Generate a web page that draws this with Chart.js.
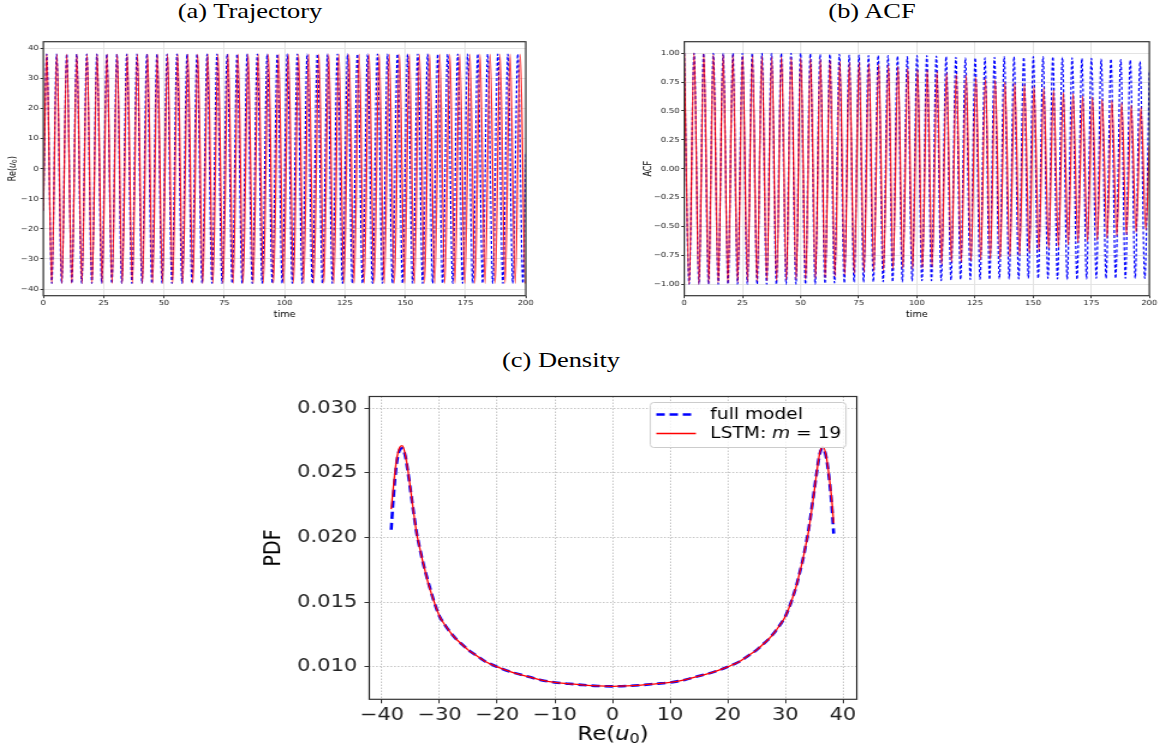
<!DOCTYPE html>
<html lang="en">
<head>
    <meta charset="UTF-8">
    <title>Trajectory, ACF and Density: full model vs LSTM</title>
    <script src="https://cdn.jsdelivr.net/npm/chart.js"></script>
    <style>
        body {
            margin: 0;
            background: #fff;
            width: 1167px;
            height: 750px;
            position: relative;
            overflow: hidden;
        }
        /* the original figure is a bit wider than tall, so every panel is stretched sideways */
        .panel {
            position: absolute;
            transform: scaleX(1.2);
            transform-origin: 0 0;
        }
        .panel canvas { display: block; }
        .caption {
            position: absolute;
            font-family: 'Liberation Serif', 'Times New Roman', serif;
            font-size: 22px;
            line-height: 22px;
            color: #000;
            white-space: nowrap;
            transform: translateX(-50%) scaleX(1.2);
        }
    </style>
</head>
<body>
    <div class="caption" style="left:250px; top:0px;">(a) Trajectory</div>
    <div class="caption" style="left:872px; top:0px;">(b) ACF</div>
    <div class="caption" style="left:561px; top:349px;">(c) Density</div>

    <div class="panel" style="left:0px; top:30px;">
        <canvas id="trajChart" width="450" height="300"></canvas>
    </div>
    <div class="panel" style="left:620px; top:30px;">
        <canvas id="acfChart" width="456" height="300"></canvas>
    </div>
    <div class="panel" style="left:250px; top:380px;">
        <canvas id="densChart" width="534" height="370"></canvas>
    </div>

    <script>
        // ---- (a) trajectory: times of the maxima / minima ----
        const trajXTicks = [0, 25, 50, 75, 100, 125, 150, 175, 200];
        const trajYTicks = [-40, -30, -20, -10, 0, 10, 20, 30, 40];
        const trajPeak = 38.1;
        const trajTrough = -38.1;
        const trajFullPeakT = [1.4, 5.5, 9.7, 13.8, 18.0, 22.2, 26.3, 30.5, 34.6, 38.8, 42.9, 47.1, 51.3, 55.4, 59.6, 63.7,
            67.9, 72.0, 76.2, 80.3, 84.5, 88.7, 92.8, 97.0, 101.1, 105.3, 109.4, 113.6, 117.8, 121.9, 126.1, 130.2,
            134.4, 138.5, 142.7, 146.8, 151.0, 155.2, 159.3, 163.5, 167.6, 171.8, 175.9, 180.1, 184.2, 188.4, 192.6, 196.7];
        const trajFullTroughT = [3.5, 7.6, 11.8, 15.9, 20.1, 24.2, 28.4, 32.5, 36.7, 40.9, 45.0, 49.2, 53.3, 57.5, 61.6, 65.8,
            69.9, 74.1, 78.3, 82.4, 86.6, 90.7, 94.9, 99.0, 103.2, 107.3, 111.5, 115.7, 119.8, 124.0, 128.1, 132.3,
            136.4, 140.6, 144.7, 148.9, 153.1, 157.2, 161.4, 165.5, 169.7, 173.8, 178.0, 182.1, 186.3, 190.5, 194.6, 198.8];
        const trajLstmPeakT = [1.4, 5.6, 9.7, 13.9, 18.1, 22.3, 26.4, 30.6, 34.8, 39.0, 43.2, 47.3, 51.5, 55.7, 59.9, 64.0,
            68.2, 72.4, 76.6, 80.7, 84.9, 89.1, 93.3, 97.5, 101.6, 105.8, 110.0, 114.2, 118.3, 122.5, 126.7, 130.9,
            135.0, 139.2, 143.4, 147.6, 151.7, 155.9, 160.1, 164.3, 168.5, 172.6, 176.8, 181.0, 185.2, 189.3, 193.5, 197.7];
        const trajLstmTroughT = [3.5, 7.7, 11.8, 16.0, 20.2, 24.4, 28.5, 32.7, 36.9, 41.1, 45.3, 49.4, 53.6, 57.8, 62.0, 66.1,
            70.3, 74.5, 78.7, 82.8, 87.0, 91.2, 95.4, 99.6, 103.7, 107.9, 112.1, 116.3, 120.4, 124.6, 128.8, 133.0,
            137.1, 141.3, 145.5, 149.7, 153.8, 158.0, 162.2, 166.4, 170.6, 174.7, 178.9, 183.1, 187.3, 191.4, 195.6, 199.8];
        const trajFullEnds = [[0, -14], [200, 5]];
        const trajLstmEnds = [[0, -14], [200, -37]];

        // ---- (b) ACF ----
        const acfXTicks = [0, 25, 50, 75, 100, 125, 150, 175, 200];
        const acfYTicks = [-1.0, -0.75, -0.5, -0.25, 0, 0.25, 0.5, 0.75, 1.0];
        const acfFullPeakT = [0, 4.2, 8.3, 12.5, 16.7, 20.9, 25.0, 29.2, 33.4, 37.5, 41.7, 45.9, 50.0, 54.2, 58.4, 62.6,
            66.7, 70.9, 75.1, 79.2, 83.4, 87.6, 91.7, 95.9, 100.1, 104.3, 108.4, 112.6, 116.8, 120.9, 125.1, 129.3,
            133.4, 137.6, 141.8, 146.0, 150.1, 154.3, 158.5, 162.6, 166.8, 171.0, 175.1, 179.3, 183.5, 187.7, 191.8, 196.0];
        const acfFullPeakV = [1.0, 1.0, 1.0, 1.0, 1.0, 1.0, 1.0, 1.0, 1.0, 1.0,
            1.0, 1.0, 1.0, 0.995, 0.99, 0.99, 0.99, 0.985, 0.985, 0.98,
            0.98, 0.98, 0.975, 0.97, 0.98, 0.98, 0.975, 0.97, 0.965, 0.96,
            0.96, 0.96, 0.965, 0.97, 0.97, 0.965, 0.97, 0.97, 0.97, 0.965,
            0.96, 0.955, 0.955, 0.95, 0.95, 0.945, 0.94, 0.93];
        const acfFullTroughT = [2.1, 6.3, 10.4, 14.6, 18.8, 22.9, 27.1, 31.3, 35.4, 39.6, 43.8, 48.0, 52.1, 56.3, 60.5, 64.6,
            68.8, 73.0, 77.1, 81.3, 85.5, 89.6, 93.8, 98.0, 102.2, 106.3, 110.5, 114.7, 118.8, 123.0, 127.2, 131.3,
            135.5, 139.7, 143.8, 148.0, 152.2, 156.4, 160.5, 164.7, 168.9, 173.0, 177.2, 181.4, 185.5, 189.7, 193.9, 198.0];
        const acfFullTroughV = [-1.0, -1.0, -1.0, -1.0, -1.0, -1.0, -1.0, -1.0, -1.0, -1.0,
            -1.0, -1.0, -1.0, -1.0, -0.995, -0.99, -0.99, -0.985, -0.985, -0.98,
            -0.98, -0.98, -0.98, -0.975, -0.97, -0.97, -0.97, -0.965, -0.96, -0.96,
            -0.96, -0.96, -0.955, -0.955, -0.955, -0.95, -0.95, -0.95, -0.955, -0.96,
            -0.96, -0.955, -0.95, -0.95, -0.95, -0.95, -0.95, -0.95];
        const acfLstmPeakT = [0, 4.2, 8.4, 12.5, 16.7, 20.9, 25.1, 29.3, 33.4, 37.6, 41.8, 46.0, 50.1, 54.3, 58.5, 62.7,
            66.9, 71.0, 75.2, 79.4, 83.6, 87.8, 91.9, 96.1, 100.3, 104.5, 108.7, 112.8, 117.0, 121.2, 125.4, 129.5,
            133.7, 137.9, 142.1, 146.3, 150.4, 154.6, 158.8, 163.0, 167.2, 171.3, 175.5, 179.7, 183.9, 188.1, 192.2, 196.4];
        const acfLstmPeakV = [1.0, 1.0, 0.995, 0.99, 0.99, 0.985, 0.98, 0.98, 0.975, 0.97,
            0.97, 0.965, 0.96, 0.955, 0.95, 0.94, 0.93, 0.92, 0.92, 0.91,
            0.905, 0.90, 0.885, 0.87, 0.86, 0.855, 0.84, 0.83, 0.82, 0.81,
            0.79, 0.78, 0.77, 0.75, 0.74, 0.73, 0.71, 0.70, 0.68, 0.66,
            0.65, 0.63, 0.62, 0.60, 0.59, 0.57, 0.55, 0.53];
        const acfLstmTroughT = [2.1, 6.3, 10.5, 14.6, 18.8, 23.0, 27.2, 31.3, 35.5, 39.7, 43.9, 48.1, 52.2, 56.4, 60.6, 64.8,
            69.0, 73.1, 77.3, 81.5, 85.7, 89.8, 94.0, 98.2, 102.4, 106.6, 110.7, 114.9, 119.1, 123.3, 127.5, 131.6,
            135.8, 140.0, 144.2, 148.4, 152.5, 156.7, 160.9, 165.1, 169.3, 173.4, 177.6, 181.8, 186.0, 190.2, 194.3, 198.5];
        const acfLstmTroughV = [-1.0, -1.0, -0.995, -0.99, -0.99, -0.985, -0.98, -0.975, -0.97, -0.97,
            -0.965, -0.96, -0.96, -0.95, -0.945, -0.935, -0.92, -0.91, -0.895, -0.89,
            -0.88, -0.87, -0.865, -0.87, -0.86, -0.85, -0.83, -0.81, -0.81, -0.80,
            -0.79, -0.785, -0.78, -0.76, -0.75, -0.73, -0.71, -0.69, -0.68, -0.66,
            -0.64, -0.63, -0.62, -0.60, -0.58, -0.57, -0.55, -0.53];
        const acfFullEnd = [200, 0.85];
        const acfLstmEnd = [200, 0.2];

        // ---- (c) density ----
        const densXTicks = [-40, -30, -20, -10, 0, 10, 20, 30, 40];
        const densYTicks = [0.010, 0.015, 0.020, 0.025, 0.030];
        const densX = [-38.4, -38, -37.5, -37, -36.5, -36, -35.5, -35, -34.5, -34,
            -33.5, -33, -32.5, -32, -31, -30, -29, -28, -27, -26,
            -25, -24, -23, -22, -21, -20, -17.5, -15, -12.5, -10,
            -7.5, -5, -2.5, 0, 2.5, 5, 7.5, 10, 12.5, 15,
            17.5, 20, 21, 22, 23, 24, 25, 26, 27, 28,
            29, 30, 31, 32, 32.5, 33, 33.5, 34, 34.5, 35,
            35.5, 36, 36.5, 37, 37.5, 38, 38.4];
        const densFull = [0.0206, 0.0232, 0.0256, 0.0267, 0.0269, 0.0264, 0.0251, 0.0235, 0.0219, 0.0204,
            0.0193, 0.0183, 0.0174, 0.0166, 0.0151, 0.0139, 0.0132, 0.0126, 0.0121, 0.0117,
            0.0113, 0.0110, 0.0107, 0.0104, 0.0102, 0.0100, 0.0096, 0.0093, 0.0090, 0.0088,
            0.0087, 0.0086, 0.00853, 0.0085, 0.00853, 0.0086, 0.0087, 0.0088, 0.0090, 0.0093,
            0.0096, 0.0100, 0.0102, 0.0104, 0.0107, 0.0110, 0.0113, 0.0117, 0.0121, 0.0126,
            0.0132, 0.0139, 0.0150, 0.0164, 0.0173, 0.0182, 0.0193, 0.0205, 0.0220, 0.0236,
            0.0252, 0.0265, 0.0269, 0.0264, 0.0250, 0.0228, 0.0203];
        const densLstm = [0.0222, 0.0240, 0.0259, 0.0269, 0.0271, 0.0265, 0.0252, 0.0236, 0.0219, 0.0204,
            0.0193, 0.0183, 0.0174, 0.0165, 0.0151, 0.0139, 0.0132, 0.0126, 0.0121, 0.0117,
            0.0113, 0.0110, 0.0107, 0.0104, 0.0102, 0.0100, 0.0096, 0.0093, 0.0090, 0.0088,
            0.0087, 0.0086, 0.00853, 0.0085, 0.00853, 0.0086, 0.0087, 0.0088, 0.0090, 0.0093,
            0.0096, 0.0100, 0.0102, 0.0104, 0.0107, 0.0110, 0.0113, 0.0117, 0.0121, 0.0126,
            0.0132, 0.0139, 0.0150, 0.0164, 0.0173, 0.0182, 0.0193, 0.0204, 0.0219, 0.0235,
            0.0252, 0.0266, 0.0270, 0.0265, 0.0251, 0.0232, 0.0211];

        const BLUE = '#0000ff';
        const RED = '#ff0000';
        const MINUS = '\u2212';

        // join maxima and minima into one time-ordered list of points
        function extrema(peakT, peakV, troughT, troughV, start, end) {
            const pts = [];
            if (start) pts.push({x: start[0], y: start[1]});
            peakT.forEach((t, i) => pts.push({x: t, y: Array.isArray(peakV) ? peakV[i] : peakV}));
            troughT.forEach((t, i) => pts.push({x: t, y: Array.isArray(troughV) ? troughV[i] : troughV}));
            pts.sort((a, b) => a.x - b.x);
            if (end) pts.push({x: end[0], y: end[1]});
            return pts;
        }

        function fmt(v, digits) {
            const s = Math.abs(v).toFixed(digits);
            return v < -1e-9 ? MINUS + s : s;
        }

        // draws text made of pieces: normal, italic, subscript
        function drawRich(ctx, parts, x, y, angle, size) {
            const fontOf = p => {
                if (p.f === 'i') return 'italic ' + size + 'px "DejaVu Sans"';
                if (p.f === 'sub') return (size * 0.7) + 'px "DejaVu Sans"';
                return size + 'px "DejaVu Sans"';
            };
            let w = 0;
            parts.forEach(p => { ctx.font = fontOf(p); p.w = ctx.measureText(p.t).width; w += p.w; });
            ctx.save();
            ctx.translate(x, y);
            ctx.rotate(angle);
            ctx.fillStyle = '#000';
            ctx.textBaseline = 'middle';
            ctx.textAlign = 'left';
            let cx = -w / 2;
            parts.forEach(p => {
                ctx.font = fontOf(p);
                ctx.fillText(p.t, cx, p.f === 'sub' ? size * 0.22 : 0);
                cx += p.w;
            });
            ctx.restore();
        }

        const decor = {
            id: 'decor',
            afterDatasetsDraw(chart, args, opts) {
                const {ctx, chartArea: a} = chart;
                ctx.save();
                ctx.strokeStyle = '#333';
                ctx.lineWidth = opts.frameWidth;
                ctx.strokeRect(a.left, a.top, a.right - a.left, a.bottom - a.top);
                ctx.restore();
            },
            afterDraw(chart, args, opts) {
                const {ctx, chartArea: a} = chart;
                drawRich(ctx, opts.xTitle, (a.left + a.right) / 2, opts.xTitleY, 0, opts.titleSize);
                drawRich(ctx, opts.yTitle, opts.yTitleX, (a.top + a.bottom) / 2, -Math.PI / 2, opts.titleSize);
                if (!opts.legend) return;
                // legend box in the upper right corner
                const L = opts.legend;
                const bx = a.right - L.right - L.w, by = a.top + L.top;
                ctx.save();
                ctx.beginPath();
                ctx.roundRect(bx, by, L.w, L.h, 3);
                ctx.fillStyle = 'rgba(255,255,255,0.8)';
                ctx.fill();
                ctx.strokeStyle = '#cccccc';
                ctx.lineWidth = 1;
                ctx.stroke();
                L.items.forEach((it, i) => {
                    const ry = by + L.rowY[i];
                    ctx.beginPath();
                    ctx.setLineDash(it.dash);
                    ctx.strokeStyle = it.color;
                    ctx.lineWidth = it.width;
                    ctx.moveTo(bx + 5, ry);
                    ctx.lineTo(bx + 38, ry);
                    ctx.stroke();
                    ctx.setLineDash([]);
                    let tx = bx + 50;
                    it.parts.forEach(p => {
                        ctx.font = (p.f === 'i' ? 'italic ' : '') + L.size + 'px "DejaVu Sans"';
                        ctx.fillStyle = '#000';
                        ctx.textBaseline = 'middle';
                        ctx.fillText(p.t, tx, ry);
                        tx += ctx.measureText(p.t).width;
                    });
                });
                ctx.restore();
            }
        };

        function axis(c) {
            return {
                type: 'linear',
                min: c.min,
                max: c.max,
                afterBuildTicks: s => { s.ticks = c.ticks.map(v => ({value: v})); },
                afterFit: s => { if (c.width !== undefined) s.width = c.width; if (c.height !== undefined) s.height = c.height; },
                ticks: {
                    font: {family: 'DejaVu Sans', size: c.fontSize},
                    color: '#222',
                    padding: c.pad,
                    maxRotation: 0,
                    autoSkip: false,
                    callback: v => fmt(v, c.digits)
                },
                grid: {
                    color: c.gridColor,
                    lineWidth: c.gridWidth,
                    tickLength: c.tickLen,
                    tickColor: '#333',
                    tickWidth: 1,
                    tickBorderDash: []
                },
                border: {display: false, dash: c.gridDash}
            };
        }

        function lineSet(label, pts, color, width, dash) {
            return {
                label: label,
                data: pts,
                borderColor: color,
                borderWidth: width,
                borderDash: dash,
                pointRadius: 0,
                fill: false,
                cubicInterpolationMode: 'monotone'
            };
        }

        const reTitle = [{t: 'Re(', f: 'n'}, {t: 'u', f: 'i'}, {t: '0', f: 'sub'}, {t: ')', f: 'n'}];

        // (a) trajectory
        new Chart(document.getElementById('trajChart'), {
            type: 'line',
            data: {
                datasets: [
                    lineSet('LSTM', extrema(trajLstmPeakT, trajPeak, trajLstmTroughT, trajTrough, trajLstmEnds[0], trajLstmEnds[1]), 'rgba(255,0,0,0.85)', 1.3, []),
                    lineSet('full model', extrema(trajFullPeakT, trajPeak, trajFullTroughT, trajTrough, trajFullEnds[0], trajFullEnds[1]), BLUE, 1.2, [3, 2])
                ]
            },
            options: {
                responsive: false,
                animation: false,
                events: [],
                layout: {padding: {left: 0, right: 11.9, top: 11.7, bottom: 0}},
                plugins: {
                    legend: {display: false},
                    tooltip: {enabled: false},
                    decor: {
                        frameWidth: 1.2,
                        titleSize: 8,
                        xTitle: [{t: 'time', f: 'n'}],
                        xTitleY: 285,
                        yTitle: reTitle,
                        yTitleX: 11
                    }
                },
                scales: {
                    x: axis({min: 0, max: 200, ticks: trajXTicks, height: 34.3, fontSize: 7, pad: 1, digits: 0,
                        gridColor: '#e3e3e3', gridWidth: 1, gridDash: [], tickLen: 2.5}),
                    y: axis({min: -42.2, max: 42.2, ticks: trajYTicks, width: 36.1, fontSize: 7, pad: 1.5, digits: 0,
                        gridColor: '#e3e3e3', gridWidth: 1, gridDash: [], tickLen: 2.5})
                }
            },
            plugins: [decor]
        });

        // (b) ACF
        new Chart(document.getElementById('acfChart'), {
            type: 'line',
            data: {
                datasets: [
                    lineSet('LSTM', extrema(acfLstmPeakT, acfLstmPeakV, acfLstmTroughT, acfLstmTroughV, null, acfLstmEnd), 'rgba(255,0,0,0.85)', 1.3, []),
                    lineSet('full model', extrema(acfFullPeakT, acfFullPeakV, acfFullTroughT, acfFullTroughV, null, acfFullEnd), BLUE, 1.2, [3, 2])
                ]
            },
            options: {
                responsive: false,
                animation: false,
                events: [],
                layout: {padding: {left: 0, right: 14.9, top: 11.7, bottom: 0}},
                plugins: {
                    legend: {display: false},
                    tooltip: {enabled: false},
                    decor: {
                        frameWidth: 1.2,
                        titleSize: 8,
                        xTitle: [{t: 'time', f: 'n'}],
                        xTitleY: 285,
                        yTitle: [{t: 'ACF', f: 'n'}],
                        yTitleX: 23.6
                    }
                },
                scales: {
                    x: axis({min: 0, max: 200, ticks: acfXTicks, height: 34.3, fontSize: 7, pad: 1, digits: 0,
                        gridColor: '#e3e3e3', gridWidth: 1, gridDash: [], tickLen: 2.5}),
                    y: axis({min: -1.1, max: 1.1, ticks: acfYTicks, width: 53.6, fontSize: 7, pad: 1.5, digits: 2,
                        gridColor: '#e3e3e3', gridWidth: 1, gridDash: [], tickLen: 2.5})
                }
            },
            plugins: [decor]
        });

        // (c) density
        new Chart(document.getElementById('densChart'), {
            type: 'line',
            data: {
                datasets: [
                    lineSet('LSTM: m = 19', densX.map((x, i) => ({x: x, y: densLstm[i]})), RED, 1.3, []),
                    lineSet('full model', densX.map((x, i) => ({x: x, y: densFull[i]})), BLUE, 2.6, [7, 4])
                ]
            },
            options: {
                responsive: false,
                animation: false,
                events: [],
                layout: {padding: {left: 0, right: 28.4, top: 14, bottom: 0}},
                plugins: {
                    legend: {display: false},
                    tooltip: {enabled: false},
                    decor: {
                        frameWidth: 1.2,
                        titleSize: 19,
                        xTitle: reTitle,
                        xTitleY: 355,
                        yTitle: [{t: 'PDF', f: 'n'}],
                        yTitleX: 20,
                        legend: {
                            w: 163, h: 45, right: 9, top: 6, size: 15.5, rowY: [12, 31],
                            items: [
                                {color: BLUE, width: 2.6, dash: [7, 4], parts: [{t: 'full model', f: 'n'}]},
                                {color: RED, width: 1.3, dash: [], parts: [{t: 'LSTM: ', f: 'n'}, {t: 'm', f: 'i'}, {t: ' = 19', f: 'n'}]}
                            ]
                        }
                    }
                },
                scales: {
                    x: axis({min: -42.2, max: 42.4, ticks: densXTicks, height: 50.7, fontSize: 17.5, pad: 2, digits: 0,
                        gridColor: '#b8b8b8', gridWidth: 0.8, gridDash: [1.5, 1.5], tickLen: 4}),
                    y: axis({min: 0.0075, max: 0.0309, ticks: densYTicks, width: 99.4, fontSize: 17.5, pad: 6, digits: 3,
                        gridColor: '#b8b8b8', gridWidth: 0.8, gridDash: [1.5, 1.5], tickLen: 4})
                }
            },
            plugins: [decor]
        });
    </script>
</body>
</html>
